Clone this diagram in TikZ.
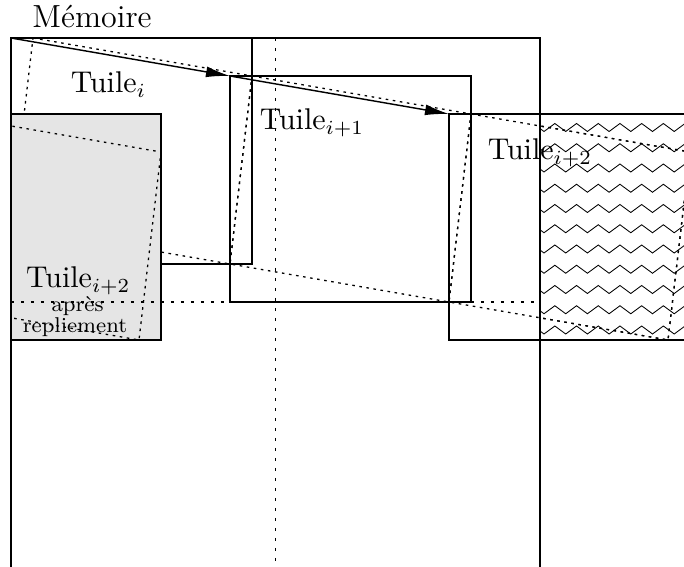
\documentclass[tikz,border=0pt]{standalone}
\usepackage{fontspec}
\usetikzlibrary{arrows.meta}
\tikzset{
  box/.style={draw, line width=0.4pt},
  tilt/.style={draw, dash pattern=on 0.9pt off 1.6pt, line width=0.45pt},
  axisline/.style={draw, dash pattern=on 0.9pt off 2.6pt, line width=0.4pt},
  lbl/.style={font=\fontsize{10.5}{12}\selectfont, inner sep=0pt, anchor=base},
  biglbl/.style={font=\fontsize{11.2}{13}\selectfont, inner sep=0pt, anchor=base},
  smalllbl/.style={font=\fontsize{7.5}{9}\selectfont, inner sep=0pt, anchor=base},
  mv/.style={-{Latex[length=8.4pt,width=3.8pt]}, line width=0.5pt},
  zzline/.style={draw, line width=0.3pt, line join=miter},
  folded/.style={draw, line width=0.4pt, fill=black!10}
}
\begin{document}
\begin{tikzpicture}[x=0.35pt,y=-0.35pt]
\useasboundingbox (0,0) rectangle (684,567);
\clip (0,0) rectangle (684,567);
% memory
\draw[box] (11,38) rectangle (540,575);
% tile corners
\coordinate (t0) at (11,38);
\coordinate (t1) at (230,76);
\coordinate (t2) at (449,114);
% tiles
\draw[box] (t0) rectangle ++(241,226);
\draw[box] (t1) rectangle ++(241,226);
\draw[box] (t2) rectangle ++(241,226);
% tilted tiles
\draw[tilt] (33,38) -- (252,76) -- (230,264) -- (11,226) -- cycle;
\draw[tilt] (252,76) -- (471,114) -- (449,302) -- (230,264) -- cycle;
\draw[tilt] (471,114) -- (690,152) -- (668,340) -- (449,302) -- cycle;
% folded part
\draw[folded] (11,114) rectangle (161,340);
\begin{scope}
  \clip (11,114) rectangle (161,340);
  \draw[tilt] (-58,114) -- (161,152) -- (139,340) -- (-80,302) -- cycle;
\end{scope}
% centre lines
\draw[axisline] (275.5,38) -- (275.5,567);
\draw[axisline] (11,302) -- (540,302);
% labels
\node[biglbl] (mem) at (92,28) {Mémoire};
\node[lbl] (li) at (108.5,93) {Tuile$_i$};
\node[lbl] (li1) at (312,130) {Tuile$_{i+1}$};
\node[lbl] (li2) at (540,160) {Tuile$_{i+2}$};
\node[lbl] (lf) at (78.3,288) {Tuile$_{i+2}$};
\node[smalllbl] (lf2) at (77.5,311.5) {après};
\node[smalllbl] (lf3) at (75,333) {repliement};
% overflow zigzag
\begin{scope}
  \clip (540,114) rectangle (690,340);
  \foreach \k in {0,...,10}{
    \pgfmathsetmacro{\yy}{127.5+20.25*\k}
    \draw[zzline] (533.15,\yy-4)
      \foreach \m in {0,...,14}{ -- ({544+10.85*\m},{\yy+4-8*mod(\m,2)}) };
  }
  \draw[tilt] (471,114) -- (690,152) -- (668,340) -- (449,302) -- cycle;
\end{scope}
\draw[box] (540,114) -- (540,340);
% displacement arrows
\draw[mv] (t0) -- (t1);
\draw[mv] (t1) -- (t2);
\end{tikzpicture}
\end{document}
